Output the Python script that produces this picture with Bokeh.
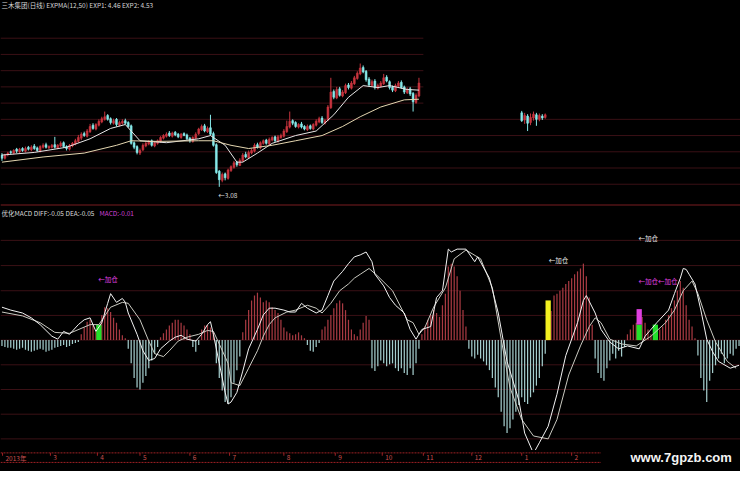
from bokeh.plotting import figure
from bokeh.layouts import column
from bokeh.models import Range1d, Label, Span, ColumnDataSource
from bokeh.core.properties import value
from bokeh.embed import file_html
from bokeh.resources import INLINE

# ---------------- price panel data (daily candles: open, high, low, close) ----------------
candles = [
    (3.57, 3.60, 3.48, 3.52), (3.52, 3.59, 3.50, 3.57), (3.58, 3.62, 3.55, 3.60), (3.62, 3.64, 3.58, 3.61),
    (3.60, 3.66, 3.58, 3.64), (3.66, 3.68, 3.60, 3.63), (3.62, 3.68, 3.60, 3.66), (3.67, 3.69, 3.62, 3.64),
    (3.63, 3.70, 3.61, 3.67), (3.69, 3.71, 3.64, 3.66), (3.65, 3.72, 3.63, 3.69), (3.71, 3.74, 3.65, 3.67),
    (3.68, 3.70, 3.62, 3.64), (3.63, 3.72, 3.61, 3.70), (3.69, 3.75, 3.67, 3.72), (3.73, 3.76, 3.67, 3.69),
    (3.68, 3.72, 3.66, 3.70), (3.69, 3.74, 3.67, 3.72), (3.73, 3.85, 3.67, 3.69), (3.68, 3.74, 3.66, 3.72),
    (3.71, 3.78, 3.69, 3.75), (3.76, 3.78, 3.68, 3.70), (3.70, 3.72, 3.64, 3.67), (3.66, 3.74, 3.64, 3.72),
    (3.71, 3.77, 3.69, 3.75), (3.74, 3.82, 3.72, 3.79), (3.78, 3.88, 3.76, 3.84), (3.83, 3.92, 3.80, 3.89),
    (3.90, 3.93, 3.85, 3.87), (3.86, 3.97, 3.84, 3.94), (3.93, 4.05, 3.91, 4.01), (4.03, 4.06, 3.96, 3.98),
    (3.97, 4.06, 3.95, 4.04), (4.03, 4.12, 4.01, 4.09), (4.08, 4.16, 4.06, 4.13), (4.12, 4.24, 4.10, 4.16),
    (4.18, 4.20, 4.10, 4.12), (4.13, 4.15, 4.04, 4.07), (4.06, 4.13, 4.04, 4.10), (4.12, 4.14, 4.01, 4.04),
    (4.03, 4.10, 4.01, 4.07), (4.06, 4.12, 4.04, 4.09), (4.10, 4.13, 4.04, 4.06), (4.07, 4.09, 3.99, 4.01),
    (4.02, 4.04, 3.73, 3.75), (3.76, 3.78, 3.66, 3.69), (3.70, 3.72, 3.58, 3.61), (3.60, 3.67, 3.57, 3.64),
    (3.65, 3.75, 3.63, 3.72), (3.71, 3.78, 3.69, 3.75), (3.74, 3.80, 3.72, 3.78), (3.79, 3.81, 3.70, 3.72),
    (3.71, 3.78, 3.69, 3.76), (3.75, 3.81, 3.73, 3.79), (3.78, 3.86, 3.76, 3.84), (3.83, 3.89, 3.81, 3.87),
    (3.86, 3.92, 3.84, 3.89), (3.91, 3.94, 3.85, 3.87), (3.86, 3.93, 3.84, 3.91), (3.92, 3.94, 3.86, 3.88),
    (3.89, 3.91, 3.83, 3.85), (3.84, 3.91, 3.82, 3.89), (3.90, 3.92, 3.86, 3.87), (3.88, 3.90, 3.80, 3.82),
    (3.83, 3.85, 3.76, 3.79), (3.78, 3.86, 3.76, 3.84), (3.83, 3.92, 3.81, 3.89), (3.90, 3.99, 3.88, 3.97),
    (3.96, 4.04, 3.94, 4.01), (4.02, 4.05, 3.92, 3.94), (3.93, 4.01, 3.91, 3.98), (3.99, 4.19, 3.87, 3.89),
    (3.90, 3.93, 3.70, 3.72), (3.73, 3.75, 3.28, 3.30), (3.32, 3.34, 3.08, 3.19), (3.18, 3.30, 3.15, 3.27),
    (3.28, 3.30, 3.18, 3.22), (3.21, 3.36, 3.19, 3.34), (3.33, 3.41, 3.31, 3.39), (3.38, 3.48, 3.36, 3.45),
    (3.46, 3.48, 3.39, 3.42), (3.41, 3.52, 3.40, 3.49), (3.48, 3.60, 3.46, 3.57), (3.58, 3.62, 3.52, 3.54),
    (3.53, 3.64, 3.51, 3.61), (3.60, 3.67, 3.58, 3.64), (3.63, 3.75, 3.61, 3.72), (3.73, 3.76, 3.67, 3.69),
    (3.68, 3.78, 3.66, 3.76), (3.75, 3.81, 3.73, 3.79), (3.80, 3.82, 3.73, 3.75), (3.74, 3.84, 3.72, 3.81),
    (3.80, 3.86, 3.78, 3.84), (3.85, 3.87, 3.77, 3.79), (3.78, 3.88, 3.76, 3.85), (3.84, 3.90, 3.82, 3.87),
    (3.86, 3.97, 3.84, 3.94), (3.93, 4.10, 3.91, 4.01), (4.00, 4.24, 3.98, 4.09), (4.10, 4.12, 4.03, 4.06),
    (4.07, 4.09, 3.99, 4.01), (4.00, 4.06, 3.98, 4.04), (4.05, 4.08, 3.98, 4.00), (4.01, 4.03, 3.95, 3.97),
    (3.96, 4.04, 3.94, 4.01), (4.02, 4.04, 3.96, 3.98), (3.97, 4.06, 3.95, 4.04), (4.03, 4.12, 4.01, 4.09),
    (4.08, 4.16, 4.06, 4.13), (4.14, 4.17, 4.05, 4.07), (4.06, 4.13, 4.04, 4.10), (4.11, 4.34, 4.09, 4.31),
    (4.30, 4.76, 4.28, 4.54), (4.55, 4.58, 4.43, 4.46), (4.45, 4.62, 4.43, 4.58), (4.59, 4.62, 4.47, 4.49),
    (4.48, 4.57, 4.46, 4.54), (4.53, 4.67, 4.51, 4.64), (4.65, 4.68, 4.58, 4.61), (4.60, 4.71, 4.58, 4.68),
    (4.67, 4.79, 4.65, 4.76), (4.75, 4.86, 4.73, 4.83), (4.82, 4.98, 4.80, 4.91), (4.92, 4.95, 4.83, 4.85),
    (4.86, 4.88, 4.70, 4.73), (4.74, 4.77, 4.62, 4.65), (4.64, 4.73, 4.62, 4.70), (4.71, 4.74, 4.58, 4.61),
    (4.60, 4.67, 4.58, 4.64), (4.63, 4.71, 4.61, 4.68), (4.67, 4.82, 4.65, 4.76), (4.77, 4.80, 4.69, 4.71),
    (4.70, 4.72, 4.58, 4.61), (4.62, 4.64, 4.54, 4.57), (4.56, 4.67, 4.54, 4.64), (4.63, 4.71, 4.61, 4.68),
    (4.69, 4.72, 4.59, 4.61), (4.62, 4.64, 4.51, 4.54), (4.53, 4.61, 4.51, 4.58), (4.59, 4.62, 4.48, 4.51),
    (4.52, 4.54, 4.24, 4.39), (4.38, 4.52, 4.36, 4.49), (4.48, 4.76, 4.46, 4.68),
]
cluster_day = [177, 178, 179, 180, 181, 182, 183, 184, 185]
cluster_candles = [
    (4.22, 4.25, 4.08, 4.10), (4.11, 4.22, 4.05, 4.18), (4.17, 4.20, 3.94, 4.06),
    (4.07, 4.21, 4.03, 4.15), (4.14, 4.24, 4.10, 4.20), (4.19, 4.22, 4.02, 4.12),
    (4.12, 4.21, 4.09, 4.18), (4.17, 4.20, 4.11, 4.14), (4.15, 4.21, 4.13, 4.19),
]
exp1_pts = [(0, 3.57), (11, 3.61), (22, 3.69), (30, 3.82), (37, 3.98), (42, 4.04), (47, 3.79),
            (56, 3.76), (67, 3.82), (71, 3.87), (76, 3.72), (80, 3.46), (82, 3.46), (87, 3.60),
            (92, 3.75), (100, 3.87), (107, 3.94), (113, 4.19), (118, 4.46), (123, 4.64),
            (128, 4.61), (132, 4.64), (138, 4.58), (142, 4.57)]
exp2_pts = [(0, 3.46), (14, 3.54), (28, 3.60), (39, 3.72), (44, 3.79), (53, 3.78), (67, 3.79),
            (72, 3.79), (78, 3.72), (84, 3.67), (92, 3.72), (100, 3.79), (109, 3.87), (116, 4.01),
            (122, 4.16), (129, 4.31), (137, 4.42), (142, 4.43)]
price_grid_left = [5.37, 5.12, 4.87, 4.62, 4.37]
price_grid_full = [4.12, 3.87, 3.62, 3.37, 3.12]
low_day, low_price = 74, 3.08

# ---------------- MACD panel data ----------------
macd_hist = [
    -0.012, -0.014, -0.016, -0.016, -0.018, -0.020, -0.018, -0.016, -0.020, -0.022, -0.024, -0.022, -0.020,
    -0.018, -0.020, -0.024, -0.022, -0.020, -0.016, -0.014, -0.012, -0.010, -0.014, -0.012, -0.008, -0.006, -0.004,
    0.012, 0.026, 0.038, 0.042, 0.030, 0.018,
    0.020,
    0.052, 0.068, 0.066, 0.058, 0.046, 0.036, 0.022, 0.010,
    0.004,
    -0.018, -0.048, -0.078, -0.098, -0.102, -0.088, -0.074, -0.058, -0.042, -0.028, -0.014,
    0.006, 0.014, 0.022, 0.030, 0.036, 0.042,
    0.042, 0.036, 0.030, 0.022, 0.012,
    -0.014, -0.024, -0.010,
    0.022, 0.030, 0.032, 0.026, 0.018,
    -0.048, -0.078, -0.104, -0.128, -0.132, -0.118, -0.088, -0.062, -0.034,
    0.016, 0.042, 0.062, 0.082, 0.092, 0.098, 0.088, 0.078, 0.082, 0.078, 0.068, 0.062, 0.056, 0.042, 0.026,
    0.018, 0.014, 0.010, 0.012, 0.016, 0.010, 0.004,
    -0.010, -0.022, -0.024, -0.014, -0.006,
    0.022, 0.028, 0.042, 0.052, 0.066, 0.076, 0.082, 0.076, 0.062, 0.042, 0.022, 0.012, 0.008, 0.022, 0.036, 0.050, 0.042,
    -0.058, -0.064, -0.054, -0.042, -0.048, -0.054, -0.050, -0.048, -0.058, -0.064, -0.058, -0.068, -0.072, -0.058,
    -0.072, -0.048, -0.018,
    0.012, 0.028, 0.042, 0.052, 0.062, 0.056, 0.048, 0.072, 0.096, 0.152, 0.158, 0.152, 0.132, 0.102, 0.062, 0.028,
    -0.018, -0.034, -0.038, -0.030, -0.038, -0.044, -0.052, -0.062, -0.078, -0.098, -0.118, -0.148, -0.178, -0.192,
    -0.182, -0.164, -0.148, -0.134, -0.118, -0.128, -0.132, -0.118, -0.108, -0.094, -0.078, -0.054, -0.028,
    0.040, 0.060, 0.092, 0.096, 0.102, 0.108, 0.116, 0.122, 0.128, 0.136, 0.142, 0.148, 0.158, 0.132, 0.088, 0.032,
    -0.038, -0.068, -0.078, -0.084, -0.058, -0.042, -0.028, -0.038, -0.022, -0.034, -0.014,
    0.012, 0.022, 0.032, 0.036,
    0.030,
    0.048, 0.036, 0.022, 0.012,
    0.010, 0.008,
    0.022, 0.028, 0.042, 0.052, 0.066, 0.082, 0.102, 0.122, 0.108, 0.072, 0.042, 0.028,
    0.004,
    -0.032, -0.078, -0.104, -0.128, -0.084, -0.068, -0.052, -0.038, -0.028, -0.048, -0.038, -0.028, -0.032,
    -0.018, -0.012,
]
diff_pts = [(0, 0.068), (3, 0.062), (7, 0.056), (10, 0.046), (13, 0.032), (17, 0.008), (19, 0.002),
            (21, 0.018), (23, 0.012), (26, 0.032), (28, 0.042), (30, 0.046), (32, 0.018), (34, 0.036),
            (36, 0.076), (37, 0.096), (39, 0.078), (41, 0.086), (42, 0.078), (43, 0.056), (46, 0.012),
            (48, -0.022), (50, -0.042), (52, -0.038), (54, -0.018), (57, -0.002), (59, 0.006), (61, 0.010),
            (63, 0.002), (66, -0.002), (68, 0.012), (70, 0.032), (71, 0.038), (72, 0.012), (74, -0.048),
            (76, -0.108), (77, -0.132), (78, -0.128), (80, -0.108), (82, -0.064), (84, -0.018), (87, 0.022),
            (89, 0.052), (91, 0.066), (93, 0.066), (96, 0.062), (98, 0.058), (100, 0.058), (102, 0.076),
            (104, 0.066), (107, 0.056), (109, 0.062), (111, 0.092), (113, 0.122), (116, 0.142), (118, 0.158),
            (120, 0.172), (122, 0.176), (124, 0.182), (126, 0.162), (127, 0.136), (130, 0.112), (132, 0.088),
            (134, 0.072), (137, 0.056), (139, 0.022), (141, 0.002), (143, 0.022), (146, 0.028), (148, 0.088),
            (150, 0.102), (152, 0.188), (153, 0.182), (155, 0.188), (158, 0.188), (161, 0.162), (162, 0.172),
            (166, 0.128), (169, 0.056), (172, -0.044), (176, -0.124), (178, -0.192), (181, -0.234),
            (183, -0.212), (186, -0.178), (189, -0.112), (192, -0.032), (196, 0.036), (198, 0.082),
            (199, 0.092), (202, 0.056), (204, 0.022), (207, -0.004), (210, -0.018), (213, -0.012),
            (217, -0.018), (219, 0.008), (223, 0.036), (227, 0.062), (229, 0.096), (231, 0.128), (232, 0.148),
            (233, 0.146), (234, 0.136), (236, 0.116), (238, 0.062), (240, 0.002), (242, -0.024), (244, -0.044),
            (248, -0.058), (251, -0.052)]
dea_pts = [(0, 0.058), (7, 0.050), (13, 0.036), (18, 0.016), (23, 0.014), (30, 0.032), (33, 0.032),
           (37, 0.068), (41, 0.078), (43, 0.076), (47, 0.042), (50, -0.002), (52, -0.028), (55, -0.034),
           (57, -0.022), (60, -0.002), (63, 0.006), (67, 0.012), (70, 0.020), (72, 0.018), (74, -0.008),
           (77, -0.048), (78, -0.088), (81, -0.094), (84, -0.058), (87, -0.022), (89, 0.008), (91, 0.032),
           (93, 0.046), (97, 0.058), (100, 0.062), (104, 0.072), (107, 0.066), (109, 0.056), (112, 0.076),
           (115, 0.102), (118, 0.116), (120, 0.128), (122, 0.136), (125, 0.148), (128, 0.132), (133, 0.102),
           (138, 0.042), (140, 0.036), (142, 0.012), (144, 0.026), (147, 0.068), (151, 0.108), (154, 0.168),
           (158, 0.186), (163, 0.168), (167, 0.108), (170, 0.002), (173, -0.098), (177, -0.164),
           (181, -0.198), (186, -0.204), (189, -0.164), (193, -0.072), (197, -0.012), (200, 0.028),
           (202, 0.046), (204, 0.036), (207, 0.002), (211, -0.008), (216, -0.012), (221, 0.008),
           (226, 0.036), (229, 0.062), (232, 0.102), (235, 0.122), (237, 0.096), (240, 0.042),
           (243, -0.004), (247, -0.044), (250, -0.058)]
macd_grid = [0.206, 0.154, 0.102, 0.051, 0.0, -0.051, -0.102, -0.153, -0.204]
signal_day = [33, 186, 217, 217, 222.5]
signal_bottom = [0.0, 0.0, 0.0, 0.032, 0.0]
signal_top = [0.032, 0.082, 0.032, 0.064, 0.032]
signal_kind = ["green", "yellow", "green", "magenta", "green"]
note_day = [32.8, 186.2, 216.8, 216.8]
note_val = [0.126, 0.166, 0.21, 0.122]
note_text = ["←加仓", "←加仓", "←加仓", "←加仓←加仓"]
note_kind = ["magenta", "white", "white", "magenta"]

# ---------------- time axis ----------------
month_day = [0.2, 16.5, 32.5, 47, 64, 77.5, 96, 113.5, 129.5, 143.5, 160, 177, 194]
month_label = ["2013年", "3", "4", "5", "6", "7", "8", "9", "10", "11", "12", "1", "2"]
axis_end_day = 204

# ---------------- styling ----------------
W = 740
H1, H2, H3 = 206, 244, 21
UP, DOWN = "#c8343e", "#86eaea"
HIST_UP, HIST_DN = "#a83a42", "#a4cccc"
GRID = "#3a1015"
CJK = "Noto Sans CJK SC"
KIND = {"green": "#22e02a", "yellow": "#f2f020", "magenta": "#e040e0", "white": "#e8e8e8"}

xr = Range1d(-0.5, 251.5)


def panel(h, y0, y1):
    p = figure(width=W, height=h, x_range=xr, y_range=Range1d(y0, y1),
               output_backend="svg", toolbar_location=None,
               x_axis_location=None, y_axis_location=None, min_border=0,
               background_fill_color="black", border_fill_color="black",
               outline_line_color=None)
    p.grid.visible = False
    return p


# ---- price panel ----
p1 = panel(H1, 2.777, 5.951)
n = len(candles)
left_end = n + 0.5
p1.segment(x0=[-0.5] * len(price_grid_left), x1=[left_end] * len(price_grid_left),
           y0=price_grid_left, y1=price_grid_left, line_color=GRID, line_width=1)
p1.segment(x0=[-0.5] * len(price_grid_full), x1=[251.5] * len(price_grid_full),
           y0=price_grid_full, y1=price_grid_full, line_color=GRID, line_width=1)
p1.add_layout(Span(location=2.80, dimension="width", line_color="#7a1c20", line_width=1))


def draw_candles(days, rows):
    o = [r[0] for r in rows]
    h = [r[1] for r in rows]
    l = [r[2] for r in rows]
    c = [r[3] for r in rows]
    col = [UP if cc >= oo else DOWN for oo, cc in zip(o, c)]
    src = ColumnDataSource(dict(x=days, o=o, h=h, l=l, c=c, col=col,
                                top=[max(a, b) for a, b in zip(o, c)],
                                bot=[min(a, b) for a, b in zip(o, c)]))
    p1.segment(x0="x", x1="x", y0="l", y1="h", line_color="col", line_width=1, source=src)
    p1.vbar(x="x", width=0.62, top="top", bottom="bot", fill_color="col", line_color="col",
            line_width=0.6, source=src)


draw_candles(list(range(n)), candles)
draw_candles(cluster_day, cluster_candles)
p1.line([d for d, v in exp1_pts], [v for d, v in exp1_pts], line_color="#e6e6e6", line_width=1)
p1.line([d for d, v in exp2_pts], [v for d, v in exp2_pts], line_color="#e4d6b0", line_width=1)

p1.add_layout(Label(x=low_day, y=low_price, x_offset=-1, y_offset=-3, text="←3.08",
                    text_color="#d8d8d8", text_font=CJK, text_font_size="6.5px",
                    text_baseline="top", text_align="left"))
p1.add_layout(Label(x=1, y=H1 - 4, x_units="screen", y_units="screen",
                    text="三木集团(日线)  EXPMA(12,50)  EXP1: 4.46  EXP2: 4.53",
                    text_color="#d4d4d4", text_font=CJK, text_font_size="6.5px",
                    text_baseline="middle"))

# ---- MACD panel ----
p2 = panel(H2, -0.228, 0.276)
p2.segment(x0=[-0.5] * len(macd_grid), x1=[251.5] * len(macd_grid), y0=macd_grid, y1=macd_grid,
           line_color=GRID, line_width=1)
hist_days = list(range(len(macd_hist)))
hist_col = [HIST_UP if v >= 0 else HIST_DN for v in macd_hist]
p2.vbar(x=hist_days, width=0.42, top=macd_hist, bottom=0, fill_color=hist_col, line_color=None)
p2.vbar(x=signal_day, width=1.8, top=signal_top, bottom=signal_bottom,
        fill_color=[KIND[k] for k in signal_kind], line_color=None)
p2.line([d for d, v in dea_pts], [v for d, v in dea_pts], line_color="#c9c9c0", line_width=1)
p2.line([d for d, v in diff_pts], [v for d, v in diff_pts], line_color="#f2f2f2", line_width=1)
p2.text(x=note_day, y=note_val, text=note_text, text_color=[KIND[k] for k in note_kind],
        text_font=value(CJK), text_font_size="6.5px", text_baseline="middle", text_align="left")
p2.add_layout(Label(x=1, y=H2 - 6, x_units="screen", y_units="screen",
                    text="优化MACD  DIFF:-0.05  DEA:-0.05", text_color="#dcdcdc",
                    text_font=CJK, text_font_size="6.5px", text_baseline="middle"))
p2.add_layout(Label(x=99, y=H2 - 6, x_units="screen", y_units="screen",
                    text="MACD:-0.01", text_color="#d040d8",
                    text_font=CJK, text_font_size="6.5px", text_baseline="middle"))

# ---- time axis strip ----
p3 = panel(H3, 0, 22)
p3.segment(x0=[-0.5, -0.5], x1=[axis_end_day, axis_end_day], y0=[19.5, 9.5], y1=[19.5, 9.5],
           line_color="#9c2024", line_width=1, line_dash="2 1")
p3.segment(x0=month_day, x1=month_day, y0=[16.5] * len(month_day), y1=[19.5] * len(month_day),
           line_color="#9c2024", line_width=1)
p3.text(x=[d + 1.0 for d in month_day], y=[14.5] * len(month_day), text=month_label,
        text_color="#c85050", text_font=value(CJK), text_font_size="6.5px",
        text_baseline="middle", text_align="left")
p3.add_layout(Label(x=630, y=H3 + 1, x_units="screen", y_units="screen", text="www.7gpzb.com",
                    text_color="#f4f4f4", text_font="Liberation Sans", text_font_style="bold",
                    text_font_size="13px", text_baseline="top"))

layout = column(p1, p2, p3, spacing=0, styles={"background-color": "black"})
open("out.html", "w").write(file_html(layout, INLINE))
